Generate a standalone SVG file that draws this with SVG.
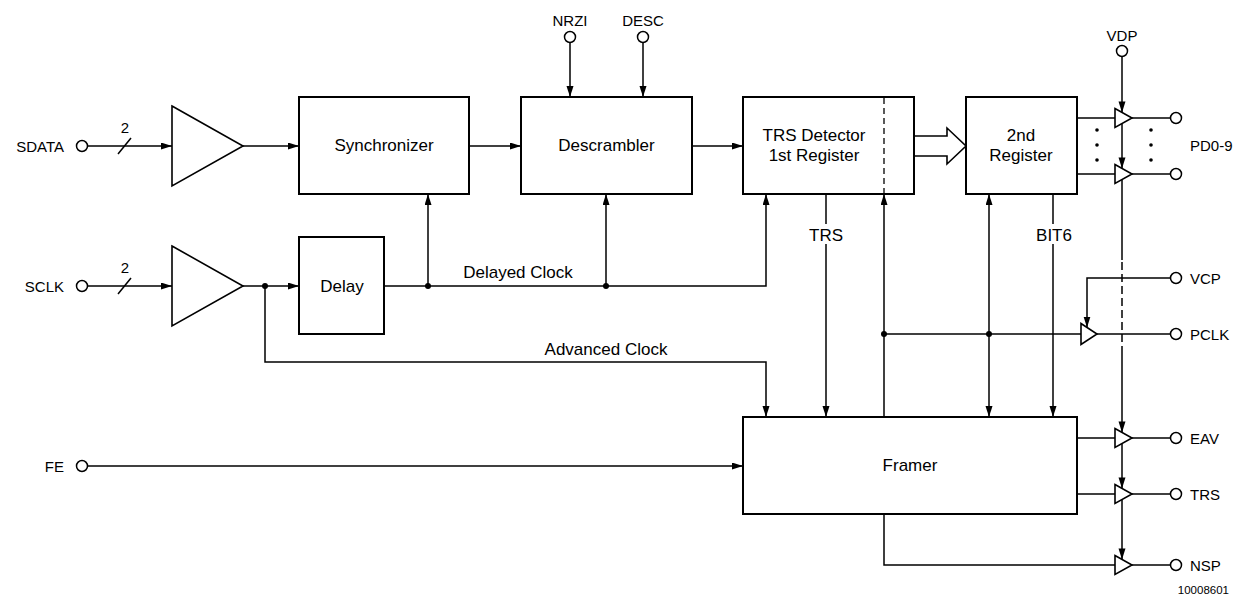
<svg xmlns="http://www.w3.org/2000/svg" width="1238" height="601" viewBox="0 0 1238 601">
<style>
.box{fill:#fff;stroke:#000;stroke-width:2}
.buf{fill:#fff;stroke:#000;stroke-width:1.6}
.ln{fill:none;stroke:#000;stroke-width:1.5}
.arr{marker-end:url(#ah)}
.dash{stroke-dasharray:8,4}
.pin{fill:#fff;stroke:#000;stroke-width:1.5}
.dot{fill:#000}
.bt{font-family:"Liberation Sans",Arial,sans-serif;font-size:17px;fill:#000;text-anchor:middle}
.pt{font-family:"Liberation Sans",Arial,sans-serif;font-size:15px;fill:#000}
.mid{text-anchor:middle}
.end{text-anchor:end}
</style>
<defs>
<marker id="ah" markerUnits="userSpaceOnUse" markerWidth="12" markerHeight="8" refX="11" refY="3.5" orient="auto-start-reverse">
<path d="M0,0 L11,3.5 L0,7 z" fill="#000"/>
</marker>
</defs>
<rect width="1238" height="601" fill="#fff"/>

<g id="connectors">
<path class="ln arr" d="M87.5,146 H172"/>
<path class="ln" d="M118,154 L131,138"/>
<path class="ln arr" d="M243,146 H299"/>
<path class="ln arr" d="M469,146 H521"/>
<path class="ln arr" d="M692,146 H743"/>
<path class="ln arr" d="M570,42.5 V97"/>
<path class="ln arr" d="M643,42.5 V97"/>
<path class="ln arr" d="M87.5,286 H172"/>
<path class="ln" d="M118,294 L131,278"/>
<path class="ln arr" d="M243,286 H299"/>
<path class="ln arr" d="M384,286 H766 V194"/>
<path class="ln arr" d="M428,286 V194"/>
<path class="ln arr" d="M606,286 V194"/>
<path class="ln arr" d="M265,286 V362 H766 V417"/>
<path class="ln arr" d="M826,194 V417"/>
<path class="ln arr" d="M884,417 V194"/>
<path class="ln arr" d="M989,194 V417" style="marker-start:url(#ah)"/>
<path class="ln arr" d="M1053,194 V417"/>
<path class="ln" d="M884,334 H1081"/>
<path class="ln arr" d="M1170.5,278 H1087 V327.5"/>
<path class="ln" d="M1097,334 H1170.5"/>
<path class="ln" d="M1077,118 H1115"/>
<path class="ln" d="M1077,174 H1115"/>
<path class="ln" d="M1132,118 H1170.5"/>
<path class="ln" d="M1132,174 H1170.5"/>
<path class="ln arr" d="M1122,56.5 V112.4"/>
<path class="ln arr" d="M1122,124 V168.4"/>
<path class="ln" d="M1122,180 V260"/>
<path class="ln dash" d="M1122,262 V350"/>
<path class="ln arr" d="M1122,350 V432.4"/>
<path class="ln arr" d="M1122,444 V488.4"/>
<path class="ln arr" d="M1122,500 V559.4"/>
<path class="ln" d="M1077,438 H1115"/>
<path class="ln" d="M1077,494 H1115"/>
<path class="ln" d="M884,514 V565 H1115"/>
<path class="ln" d="M1132,438 H1170.5"/>
<path class="ln" d="M1132,494 H1170.5"/>
<path class="ln" d="M1132,565 H1170.5"/>
<path class="ln arr" d="M87.5,466 H743"/>
<polygon points="914,136 947,136 947,128 966,146 947,164 947,156 914,156" fill="#fff" stroke="#000" stroke-width="1.6"/>
<circle class="dot" cx="265" cy="286" r="3"/>
<circle class="dot" cx="428" cy="286" r="3"/>
<circle class="dot" cx="606" cy="286" r="3"/>
<circle class="dot" cx="884" cy="334" r="3"/>
<circle class="dot" cx="989" cy="334" r="3"/>
<g fill="#000">
<circle cx="1097" cy="130" r="1.8"/><circle cx="1097" cy="145" r="1.8"/><circle cx="1097" cy="160" r="1.8"/>
<circle cx="1151" cy="130" r="1.8"/><circle cx="1151" cy="145" r="1.8"/><circle cx="1151" cy="160" r="1.8"/>
</g>
<rect x="806" y="224" width="40" height="20" fill="#fff"/>
<text class="bt" x="826" y="241">TRS</text>
<rect x="1033" y="224" width="40" height="20" fill="#fff"/>
<text class="bt" x="1054" y="241">BIT6</text>
<text class="bt" x="518" y="278">Delayed Clock</text>
<text class="bt" x="606" y="355">Advanced Clock</text>
<text class="pt mid" x="125" y="133">2</text>
<text class="pt mid" x="125" y="273">2</text>
</g>

<g id="pin-sdata"><circle class="pin" cx="82" cy="146" r="5.5"/><text class="pt end" x="64" y="152">SDATA</text></g>
<g id="pin-sclk"><circle class="pin" cx="82" cy="286" r="5.5"/><text class="pt end" x="64" y="292">SCLK</text></g>
<g id="pin-fe"><circle class="pin" cx="82" cy="466" r="5.5"/><text class="pt end" x="64" y="472">FE</text></g>
<g id="pin-nrzi"><circle class="pin" cx="570" cy="37" r="5.5"/><text class="pt mid" x="570" y="26">NRZI</text></g>
<g id="pin-desc"><circle class="pin" cx="643" cy="37" r="5.5"/><text class="pt mid" x="643" y="26">DESC</text></g>
<g id="pin-vdp"><circle class="pin" cx="1122" cy="51" r="5.5"/><text class="pt mid" x="1122" y="41">VDP</text></g>
<g id="pin-pd"><circle class="pin" cx="1176" cy="118" r="5.5"/><circle class="pin" cx="1176" cy="174" r="5.5"/><text class="pt" x="1190" y="151">PD0-9</text></g>
<g id="pin-vcp"><circle class="pin" cx="1176" cy="278" r="5.5"/><text class="pt" x="1190" y="284">VCP</text></g>
<g id="pin-pclk"><circle class="pin" cx="1176" cy="334" r="5.5"/><text class="pt" x="1190" y="340">PCLK</text></g>
<g id="pin-eav"><circle class="pin" cx="1176" cy="438" r="5.5"/><text class="pt" x="1190" y="444">EAV</text></g>
<g id="pin-trs"><circle class="pin" cx="1176" cy="494" r="5.5"/><text class="pt" x="1190" y="500">TRS</text></g>
<g id="pin-nsp"><circle class="pin" cx="1176" cy="565" r="5.5"/><text class="pt" x="1190" y="571">NSP</text></g>

<g id="amp-sdata"><polygon class="buf" points="172,106 243,146 172,186"/></g>
<g id="amp-sclk"><polygon class="buf" points="172,246 243,286 172,326"/></g>
<g id="synchronizer"><rect class="box" x="299" y="97" width="170" height="97"/><text class="bt" x="384" y="151">Synchronizer</text></g>
<g id="descrambler"><rect class="box" x="521" y="97" width="171" height="97"/><text class="bt" x="606.5" y="151">Descrambler</text></g>
<g id="delay"><rect class="box" x="299" y="237" width="85" height="97"/><text class="bt" x="342" y="292">Delay</text></g>
<g id="trs-detector"><rect class="box" x="743" y="97" width="171" height="97"/><line x1="884" y1="98" x2="884" y2="193" stroke="#000" stroke-width="1.3" stroke-dasharray="6,4"/><text class="bt" x="814" y="141">TRS Detector</text><text class="bt" x="814" y="161">1st Register</text></g>
<g id="second-register"><rect class="box" x="966" y="97" width="111" height="97"/><text class="bt" x="1021" y="141">2nd</text><text class="bt" x="1021" y="161">Register</text></g>
<g id="framer"><rect class="box" x="743" y="417" width="334" height="97"/><text class="bt" x="910" y="471">Framer</text></g>
<g id="buf-pd0"><polygon class="buf" points="1115,108.5 1132,118 1115,127.5"/></g>
<g id="buf-pd9"><polygon class="buf" points="1115,164.5 1132,174 1115,183.5"/></g>
<g id="buf-pclk"><polygon class="buf" points="1081,323.5 1097,334 1081,344.5"/></g>
<g id="buf-eav"><polygon class="buf" points="1115,428.5 1132,438 1115,447.5"/></g>
<g id="buf-trs"><polygon class="buf" points="1115,484.5 1132,494 1115,503.5"/></g>
<g id="buf-nsp"><polygon class="buf" points="1115,555.5 1132,565 1115,574.5"/></g>
<text x="1229" y="594" font-family="'Liberation Sans',Arial,sans-serif" font-size="11.5" text-anchor="end">10008601</text>
</svg>
